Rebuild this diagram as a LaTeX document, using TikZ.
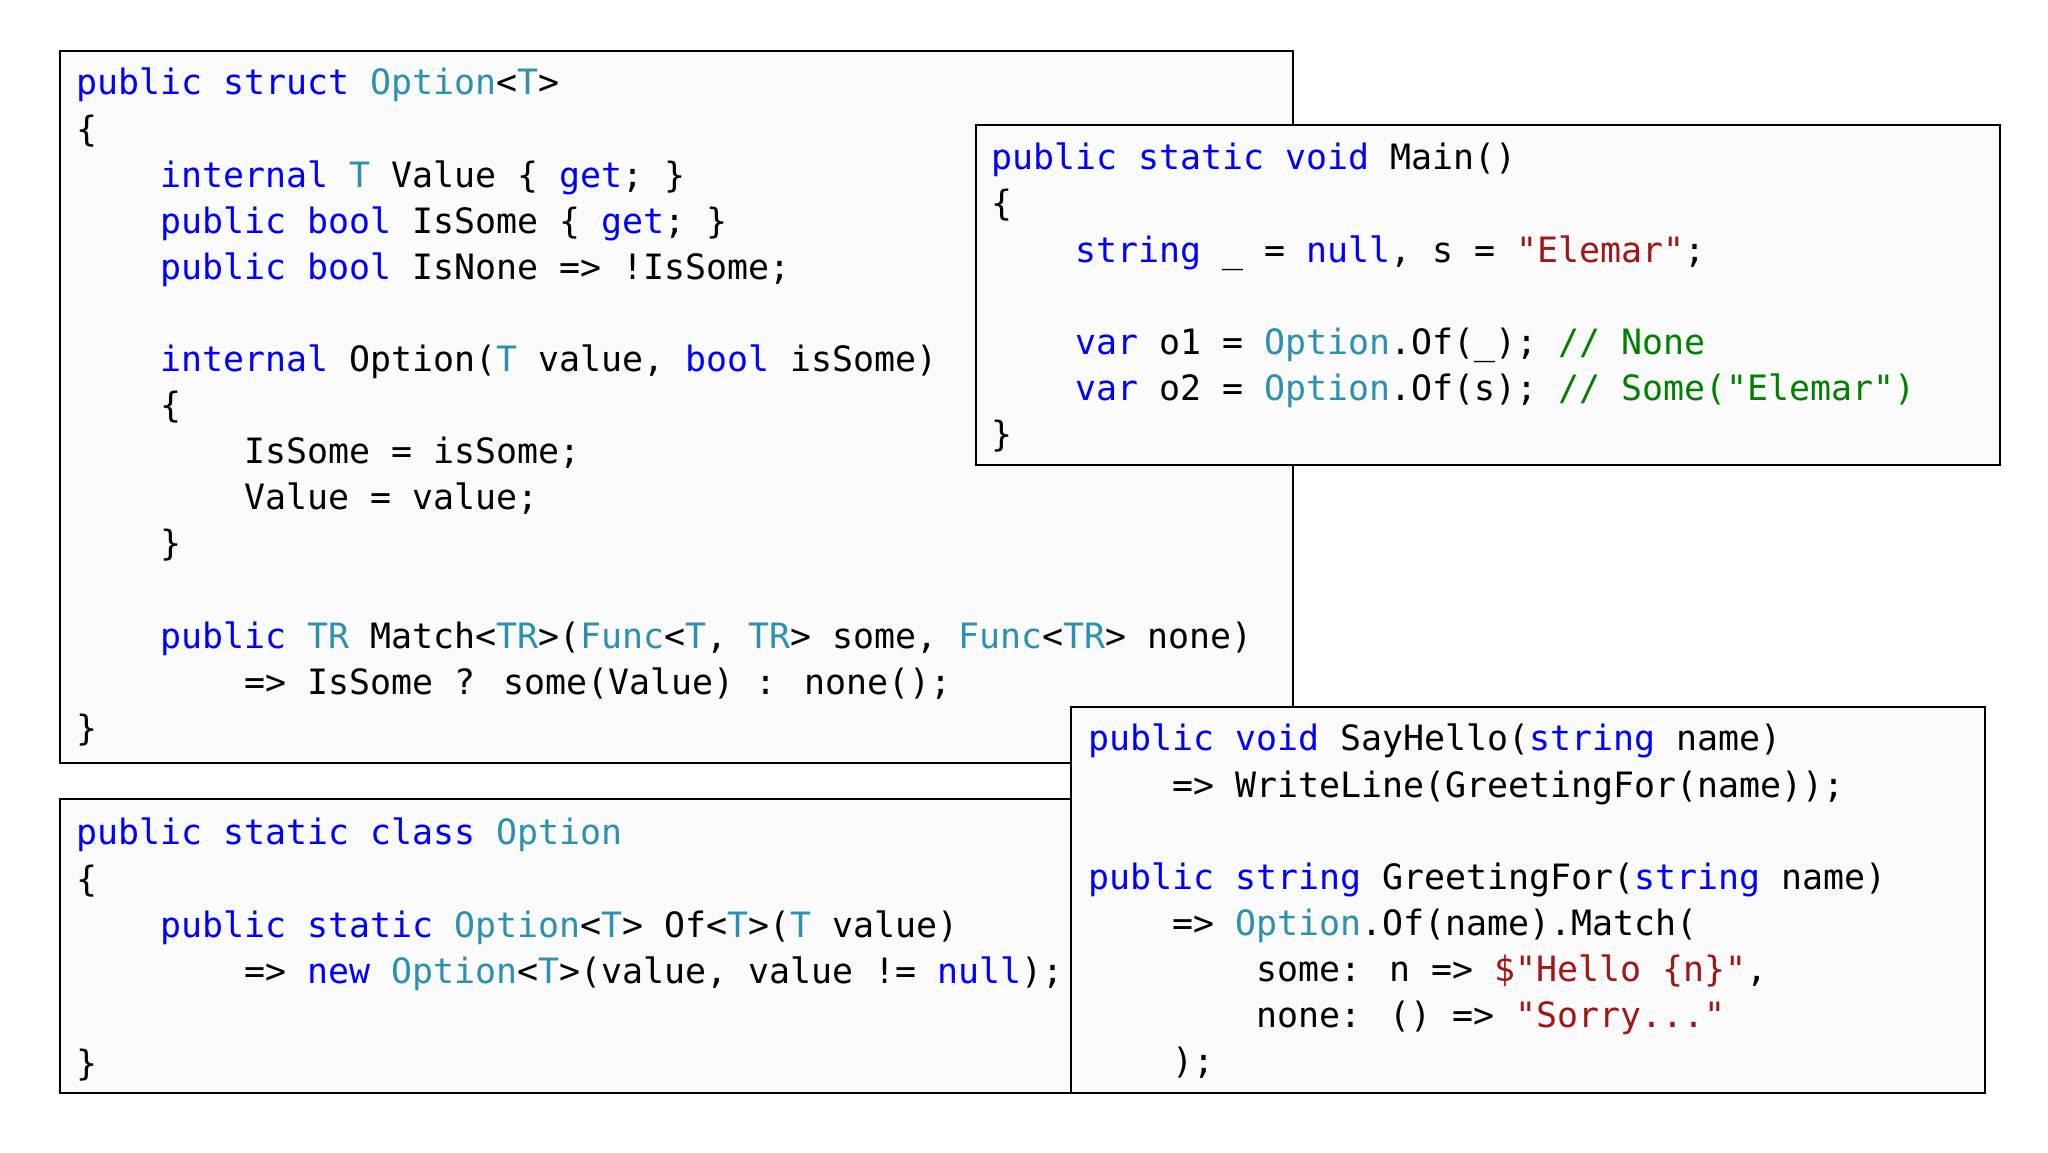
\documentclass[tikz,border=0pt]{standalone}
\usepackage{fontspec}
\newfontfamily\code{DejaVu Sans Mono}
\definecolor{kwc}{HTML}{0000FF}
\definecolor{tyc}{HTML}{2B91AF}
\definecolor{stc}{HTML}{A31515}
\definecolor{cmc}{HTML}{008000}
\definecolor{boxfill}{HTML}{FAFAFA}
\newcommand\kw[1]{\textcolor{kwc}{#1}}
\newcommand\ty[1]{\textcolor{tyc}{#1}}
\newcommand\st[1]{\textcolor{stc}{#1}}
\newcommand\cm[1]{\textcolor{cmc}{#1}}
\newcommand\I{\hspace*{84.1pt}}
\tikzset{
  codebox/.style={draw=black,line width=1.5pt,fill=boxfill},
  codetext/.style={anchor=north west,inner sep=0pt,align=left,
    font={\code\fontsize{34.9}{46.1}\selectfont}}
}
\begin{document}
\begin{tikzpicture}[x=1pt,y=1pt]
\useasboundingbox (0,0) rectangle (2048,1152);
\fill[white] (0,0) rectangle (2048,1152);
% box 1
\draw[codebox] (60,389) rectangle (1293,1101);
\node[codetext] (t1) at (76,1084) {\kw{public struct} \ty{Option}<\ty{T}>\\
\{\\
\I\kw{internal} \ty{T} Value \{ \kw{get}; \}\\
\I\kw{public bool} IsSome \{ \kw{get}; \}\\
\I\kw{public bool} IsNone => !IsSome;\\
\mbox{}\\
\I\kw{internal} Option(\ty{T} value, \kw{bool} isSome)\\
\I\{\\
\I\I IsSome = isSome;\\
\I\I Value = value;\\
\I\}\\
\mbox{}\\
\I\kw{public} \ty{TR} Match<\ty{TR}>(\ty{Func}<\ty{T}, \ty{TR}> some, \ty{Func}<\ty{TR}> none)\\
\I\I=> IsSome ? some(Value) : none();\\
\}};
% box 3
\draw[codebox] (60,59) rectangle (1071,353);
\node[codetext] (t3) at (76,334) {\kw{public static class} \ty{Option}\\
\{\\
\I\kw{public static} \ty{Option}<\ty{T}> Of<\ty{T}>(\ty{T} value)\\
\I\I=> \kw{new} \ty{Option}<\ty{T}>(value, value != \kw{null});\\
\mbox{}\\
\}};
% box 2
\draw[codebox] (976,687) rectangle (2000,1027);
\node[codetext] (t2) at (991,1009) {\kw{public static void} Main()\\
\{\\
\I\kw{string} \_ = \kw{null}, s = \st{"Elemar"};\\
\mbox{}\\
\I\kw{var} o1 = \ty{Option}.Of(\_); \cm{// None}\\
\I\kw{var} o2 = \ty{Option}.Of(s); \cm{// Some("Elemar")}\\
\}};
% box 4
\draw[codebox] (1071,59) rectangle (1985,445);
\node[codetext] (t4) at (1088,428) {\kw{public void} SayHello(\kw{string} name)\\
\I=> WriteLine(GreetingFor(name));\\
\mbox{}\\
\kw{public string} GreetingFor(\kw{string} name)\\
\I=> \ty{Option}.Of(name).Match(\\
\I\I some: n => \st{\$"Hello \{n\}"},\\
\I\I none: () => \st{"Sorry..."}\\
\I);};
\end{tikzpicture}
\end{document}
